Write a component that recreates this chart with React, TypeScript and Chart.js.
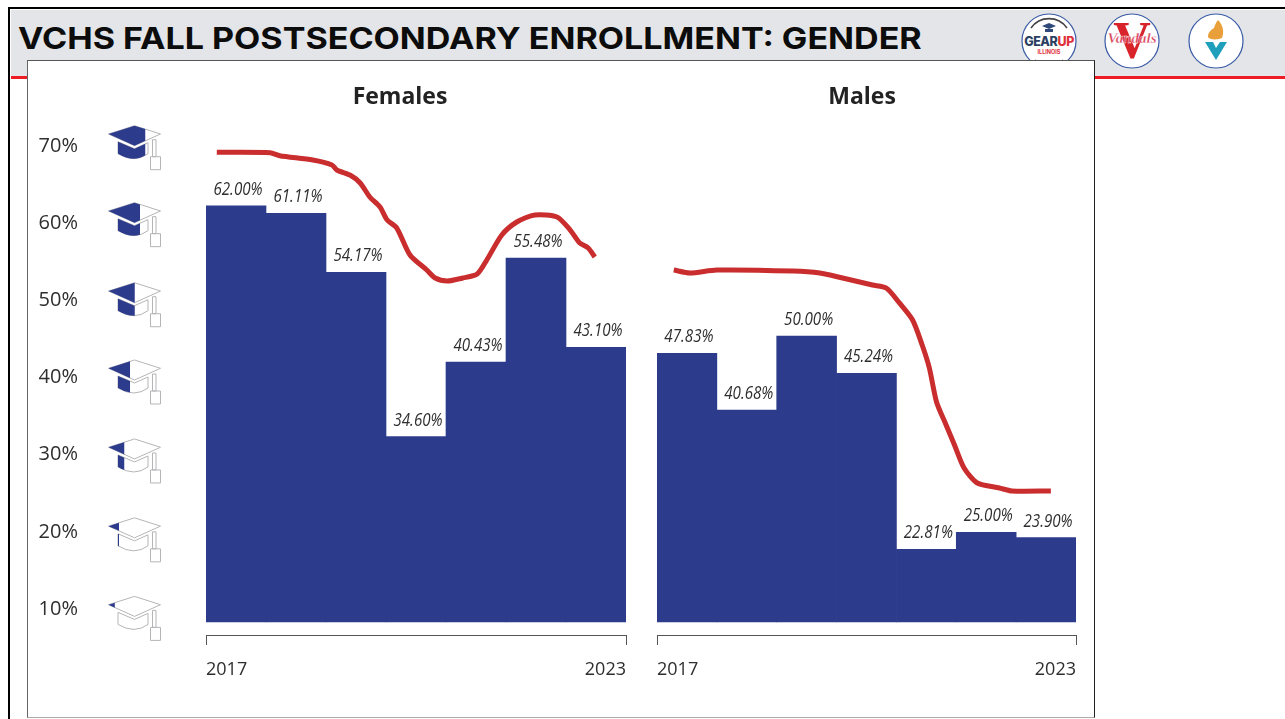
import React, { useEffect, useRef } from "react";
import { Chart, registerables } from "chart.js";

Chart.register(...registerables);

const pageTitle = "VCHS FALL POSTSECONDARY ENROLLMENT: GENDER";
const years = [2017, 2018, 2019, 2020, 2021, 2022, 2023];
const yTicks = [10, 20, 30, 40, 50, 60, 70];
const capFill = [0.12, 0.2, 0.3, 0.41, 0.5, 0.6, 0.7];
const capLift = [12.6, 14, 15.7, 17.5, 17.6, 20.5, 20.3];

// Bar heights as they stand against the printed axis (the picture's bars do not match their labels exactly)
const femaleBars = [62.26, 61.28, 53.63, 32.33, 42.01, 55.49, 43.91];
const maleBars = [43.14, 35.79, 45.38, 40.55, 17.74, 19.94, 19.24];
const femaleLabels = ["62.00%", "61.11%", "54.17%", "34.60%", "40.43%", "55.48%", "43.10%"];
const maleLabels = ["47.83%", "40.68%", "50.00%", "45.24%", "22.81%", "25.00%", "23.90%"];
const barBase = 8.32;

// Hand-drawn red trend strokes
const femaleTrendX = [2016.68, 2017.57, 2017.73, 2018.28, 2018.6, 2018.68, 2018.9, 2019.07, 2019.23, 2019.4, 2019.52, 2019.68, 2019.9, 2020.18, 2020.32, 2020.52, 2020.78, 2021.02, 2021.18, 2021.43, 2021.68, 2021.98, 2022.35, 2022.57, 2022.73, 2022.87, 2022.98];
const femaleTrendY = [69.18, 69.13, 68.74, 68.19, 67.54, 66.89, 66.24, 65.21, 63.39, 62.1, 60.41, 59.37, 55.88, 53.93, 52.89, 52.51, 52.89, 53.41, 55.23, 58.47, 60.15, 61.06, 60.8, 59.11, 57.43, 56.78, 55.62];
const maleTrendX = [2016.78, 2017.05, 2017.5, 2018.77, 2019.22, 2019.6, 2020.1, 2020.33, 2020.55, 2020.77, 2020.93, 2021.05, 2021.17, 2021.33, 2021.47, 2021.63, 2021.85, 2022.22, 2022.43, 2023.08];
const maleTrendY = [53.93, 53.54, 53.93, 53.8, 53.54, 52.89, 51.99, 51.6, 49.66, 47.45, 44.21, 41.23, 36.83, 33.85, 31.25, 28.27, 26.33, 25.68, 25.29, 25.29];

const NAVY = "#2c3b8b";
const RED = "#c92d2d";
const INK = "#2e2e2e";
const FONT = '"Open Sans", sans-serif';

function capPaths(ctx: CanvasRenderingContext2D, x: number, y: number) {
  const board = new Path2D();
  board.moveTo(x, y + 8.3);
  board.lineTo(x + 26, y);
  board.lineTo(x + 52, y + 8.3);
  board.lineTo(x + 26, y + 20);
  board.closePath();
  const bowl = new Path2D();
  bowl.moveTo(x + 9.5, y + 16);
  bowl.lineTo(x + 26, y + 23);
  bowl.lineTo(x + 39.5, y + 17);
  bowl.lineTo(x + 39.5, y + 28);
  bowl.quadraticCurveTo(x + 26, y + 38, x + 9.5, y + 28);
  bowl.closePath();
  const tassel = new Path2D();
  tassel.rect(x + 44, y + 14, 3.5, 17);
  tassel.rect(x + 42, y + 31, 10, 13);
  return { board, bowl, tassel };
}

const capsPlugin = {
  id: "caps",
  afterDraw(chart: any) {
    const { ctx, scales } = chart;
    yTicks.forEach((v, i) => {
      const y = scales.y.getPixelForValue(v) - capLift[i];
      const x = 108.5;
      const { board, bowl, tassel } = capPaths(ctx, x, y);
      ctx.save();
      ctx.lineWidth = 1;
      ctx.strokeStyle = "#b5b5b8";
      ctx.stroke(board);
      ctx.stroke(bowl);
      ctx.stroke(tassel);
      ctx.beginPath();
      ctx.rect(x - 1, y - 1, 52.5 * capFill[i] + 1, 50);
      ctx.clip();
      ctx.fillStyle = NAVY;
      ctx.fill(board);
      ctx.fill(bowl);
      ctx.restore();
    });
  },
};

const barLabelPlugin = {
  id: "barLabels",
  afterDatasetsDraw(chart: any, _a: any, opts: any) {
    const { ctx } = chart;
    const meta = chart.getDatasetMeta(0);
    ctx.save();
    ctx.font = 'italic 18px "Open Sans", sans-serif';
    ctx.fillStyle = INK;
    ctx.textAlign = "center";
    ctx.textBaseline = "middle";
    meta.data.forEach((bar: any, i: number) => {
      ctx.save();
      ctx.translate(bar.x + 2, bar.y - 16);
      ctx.scale(0.84, 1);
      ctx.fillText(opts.labels[i], 0, 0);
      ctx.restore();
    });
    ctx.restore();
  },
};

function build(canvas: HTMLCanvasElement, cfg: any) {
  return new Chart(canvas, {
    type: "bar",
    data: {
      datasets: [
        {
          type: "bar",
          data: years.map((x, i) => ({ x, y: cfg.bars[i] })),
          base: barBase,
          backgroundColor: NAVY,
          borderWidth: 0,
          barPercentage: 1,
          categoryPercentage: 1,
          order: 2,
        },
        {
          type: "line",
          data: cfg.trendX.map((x: number, i: number) => ({ x, y: cfg.trendY[i] })),
          borderColor: RED,
          borderWidth: 5,
          pointRadius: 0,
          tension: 0.25,
          borderCapStyle: "butt",
          borderJoinStyle: "round",
          order: 1,
        },
      ] as any,
    },
    options: {
      responsive: false,
      animation: false,
      devicePixelRatio: 1,
      layout: { padding: 0 },
      plugins: {
        legend: { display: false },
        tooltip: { enabled: false },
        title: {
          display: true,
          text: cfg.title,
          color: "#222222",
          font: { family: FONT, size: 23, weight: "bold", lineHeight: 1.2 },
          padding: { top: 83.4, bottom: 1 },
        },
        barLabels: { labels: cfg.labels },
      } as any,
      scales: {
        x: {
          type: "linear",
          min: 2016.5,
          max: 2023.5,
          offset: false,
          afterBuildTicks(s: any) {
            s.ticks = [{ value: s.min }, { value: s.max }];
          },
          afterFit(s: any) {
            s.height = 84;
            s.paddingLeft = 0;
            s.paddingRight = 0;
          },
          grid: { display: true, offset: false, drawOnChartArea: false, drawTicks: true, tickLength: 10, color: "#555555", lineWidth: 1 },
          border: { display: true, color: "#555555", width: 1 },
          ticks: {
            autoSkip: false,
            maxRotation: 0,
            align: "inner",
            padding: 14,
            color: INK,
            font: { family: FONT, size: 18 },
            callback: (_v: any, i: number) => String(i === 0 ? years[0] : years[years.length - 1]),
          },
        },
        y: {
          min: 6.631,
          max: 74.406,
          afterBuildTicks(s: any) {
            s.ticks = yTicks.map((value) => ({ value }));
          },
          afterFit(s: any) {
            s.width = cfg.yWidth;
            s.paddingTop = 0;
            s.paddingBottom = 0;
          },
          grid: { display: false, drawTicks: false },
          border: { display: false },
          ticks: {
            display: cfg.showY,
            padding: 128,
            autoSkip: false,
            color: INK,
            font: { family: FONT, size: 20 },
            callback: (v: any) => `${v}%`,
          },
        },
        gutter: {
          position: "right",
          display: true,
          grid: { display: false, drawTicks: false },
          border: { display: false },
          ticks: { display: false },
          afterFit(s: any) {
            s.width = cfg.gutter;
          },
        },
      } as any,
    },
    plugins: cfg.showY ? [barLabelPlugin, capsPlugin] : [barLabelPlugin],
  } as any);
}

function Logo({ cx, children }: { cx: number; children: React.ReactNode }) {
  return (
    <g transform={`translate(${cx} 41)`}>
      <circle r="27" fill="#ffffff" stroke="#3a5ba6" strokeWidth="1.2" />
      {children}
    </g>
  );
}

export default function App() {
  const left = useRef<HTMLCanvasElement>(null);
  const right = useRef<HTMLCanvasElement>(null);

  useEffect(() => {
    const a = build(left.current!, {
      title: "Females",
      bars: femaleBars,
      labels: femaleLabels,
      trendX: femaleTrendX,
      trendY: femaleTrendY,
      yWidth: 206,
      gutter: 174,
      showY: true,
    });
    const b = build(right.current!, {
      title: "Males",
      bars: maleBars,
      labels: maleLabels,
      trendX: maleTrendX,
      trendY: maleTrendY,
      yWidth: 17,
      gutter: 8,
      showY: false,
    });
    return () => {
      a.destroy();
      b.destroy();
    };
  }, []);

  return (
    <div style={{ position: "fixed", left: 0, top: 0, width: 1285, height: 719, overflow: "hidden", background: "#fff" }}>
      {/* slide frame */}
      <div style={{ position: "absolute", left: 8, top: 7, width: 1277, height: 712, borderTop: "2.5px solid #000", borderLeft: "2.5px solid #000", boxSizing: "border-box" }} />
      <div style={{ position: "absolute", left: 10.5, top: 9.5, width: 1275, height: 66.5, background: "#e3e5e8" }} />
      <div style={{ position: "absolute", left: 10.5, top: 76, width: 1275, height: 3, background: "#ee1c25" }} />
      <div
        style={{
          position: "absolute",
          left: 18,
          top: 19,
          fontFamily: "Inter, sans-serif",
          fontWeight: 700,
          fontSize: 30.5,
          lineHeight: "38px",
          color: "#0c0c0c",
          whiteSpace: "nowrap",
          transform: "scaleX(1.117)",
          transformOrigin: "left center",
        }}
      >
        {pageTitle}
      </div>
      <svg width="1285" height="90" style={{ position: "absolute", left: 0, top: 0 }}>
        <Logo cx={1049}>
          <path d="M-18 -13 A22 22 0 0 1 18 -13" fill="none" stroke="#444" strokeWidth="1.6" />
          <path d="M-14 19 A22 22 0 0 0 14 19" fill="none" stroke="#444" strokeWidth="1.6" />
          <path d="M-7 -15 L0 -18 L7 -15 L0 -12 Z M-4 -12 L-4 -9 L4 -9 L4 -12 Z" fill="#2f4a7a" />
          <text x="0" y="5" textAnchor="middle" fontFamily="Inter, sans-serif" fontWeight="800" fontSize="12.5" letterSpacing="-0.4">
            <tspan fill="#2b3f63">GEAR</tspan>
            <tspan fill="#e0323a">UP</tspan>
          </text>
          <text x="0" y="13" textAnchor="middle" fontFamily="Inter, sans-serif" fontWeight="700" fontSize="5.5" fill="#e0323a">ILLINOIS</text>
        </Logo>
        <Logo cx={1132}>
          <text x="0" y="17" textAnchor="middle" fontFamily='"Liberation Serif", serif' fontWeight="700" fontSize="52" fill="#d8232a">V</text>
          <text x="0" y="2" textAnchor="middle" fontFamily='"Liberation Serif", serif' fontStyle="italic" fontWeight="700" fontSize="15" fill="#d8415a" stroke="#fff" strokeWidth="0.3">Vandals</text>
        </Logo>
        <Logo cx={1216}>
          <path d="M2 -21 C8 -15 8 -8 6 -3 C2 -1 -7 -1 -8 -4 C-8 -9 -5 -11 -2 -13 C-1 -16 0 -19 2 -21 Z" fill="#e9a03a" />
          <path d="M-11 1 L-3 1 L0 7 L4 1 L11 1 L0 19 Z" fill="#1f9fbb" />
        </Logo>
      </svg>
      {/* chart panel */}
      <div style={{ position: "absolute", left: 27, top: 59.5, width: 1068, height: 658, background: "#fff", boxSizing: "border-box", borderTop: "1.5px solid #555", borderLeft: "1px solid #666", borderRight: "1px solid #222", borderBottom: "1.5px solid #aaa" }} />
      <canvas ref={left} width={800} height={719} style={{ position: "absolute", left: 0, top: 0, display: "block" }} />
      <canvas ref={right} width={444} height={719} style={{ position: "absolute", left: 640, top: 0, display: "block" }} />
    </div>
  );
}
